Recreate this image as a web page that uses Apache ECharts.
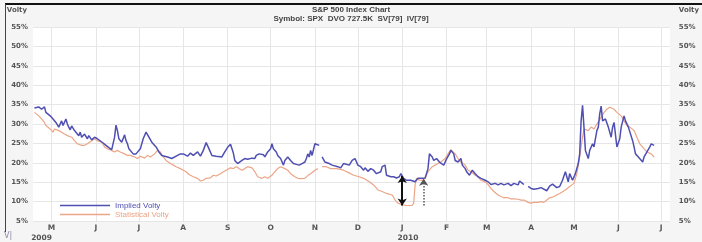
<!DOCTYPE html>
<html><head><meta charset="utf-8">
<script src="https://cdn.jsdelivr.net/npm/echarts@6/dist/echarts.min.js"></script>
<style>html,body{margin:0;padding:0;background:#f5f5f5}#c{width:702px;height:242px}</style>
</head><body><div id="c"></div>
<script>
const titleLines = ['S&P 500 Index Chart', 'Symbol: SPX  DVO 727.5K  SV[79]  IV[79]'];
const seriesNames = ['Implied Volty', 'Statistical Volty'];
const monthTicks = ['2009-05-01','2009-06-01','2009-07-01','2009-08-01','2009-09-01','2009-10-01','2009-11-01','2009-12-01','2010-01-01','2010-02-01','2010-03-01','2010-04-01','2010-05-01','2010-06-01','2010-07-01'];
const monthLabels = ['M','J','J','A','S','O','N','D','J','F','M','A','M','J','J'];
const yearTicks = ['2009-04-24','2010-01-05'];
const yearLabels = ['2009','2010'];
const yTicks = [5,10,15,20,25,30,35,40,45,50,55];

const ivDates = ['2009-04-19','2009-04-22','2009-04-24','2009-04-26','2009-04-27','2009-04-30','2009-05-02','2009-05-04','2009-05-06','2009-05-08','2009-05-09','2009-05-11','2009-05-12','2009-05-13','2009-05-14','2009-05-15','2009-05-17','2009-05-18','2009-05-20','2009-05-21','2009-05-22','2009-05-24','2009-05-25','2009-05-26','2009-05-27','2009-05-29','2009-05-31','2009-06-02','2009-06-03','2009-06-06','2009-06-08','2009-06-10','2009-06-12','2009-06-14','2009-06-15','2009-06-16','2009-06-17','2009-06-19','2009-06-21','2009-06-22','2009-06-23','2009-06-24','2009-06-27','2009-06-29','2009-06-30','2009-07-02','2009-07-04','2009-07-06','2009-07-08','2009-07-10','2009-07-13','2009-07-15','2009-07-17','2009-07-21','2009-07-24','2009-07-28','2009-07-30','2009-08-01','2009-08-04','2009-08-06','2009-08-08','2009-08-11','2009-08-13','2009-08-15','2009-08-17','2009-08-19','2009-08-21','2009-08-24','2009-08-28','2009-08-30','2009-09-01','2009-09-03','2009-09-05','2009-09-06','2009-09-08','2009-09-11','2009-09-13','2009-09-15','2009-09-18','2009-09-20','2009-09-21','2009-09-23','2009-09-26','2009-09-27','2009-09-29','2009-10-01','2009-10-02','2009-10-03','2009-10-05','2009-10-06','2009-10-08','2009-10-10','2009-10-11','2009-10-13','2009-10-14','2009-10-15','2009-10-17','2009-10-19','2009-10-21','2009-10-23','2009-10-25','2009-10-26','2009-10-27','2009-10-28','2009-10-29','2009-10-30','2009-11-01','2009-11-02','2009-11-04','2009-11-05','2009-11-06','2009-11-08','2009-11-09','2009-11-11','2009-11-13','2009-11-14','2009-11-17','2009-11-19','2009-11-21','2009-11-22','2009-11-25','2009-11-27','2009-11-29','2009-12-01','2009-12-03','2009-12-05','2009-12-06','2009-12-08','2009-12-10','2009-12-12','2009-12-14','2009-12-17','2009-12-18','2009-12-20','2009-12-21','2009-12-24','2009-12-26','2009-12-28','2009-12-30','2009-12-31','2010-01-02','2010-01-04','2010-01-07','2010-01-08','2010-01-10','2010-01-12','2010-01-13','2010-01-15','2010-01-17','2010-01-19','2010-01-20','2010-01-22','2010-01-23','2010-01-25','2010-01-27','2010-01-28','2010-01-30','2010-02-01','2010-02-03','2010-02-04','2010-02-06','2010-02-07','2010-02-09','2010-02-11','2010-02-12','2010-02-14','2010-02-15','2010-02-17','2010-02-19','2010-02-21','2010-02-23','2010-02-25','2010-02-28','2010-03-02','2010-03-04','2010-03-07','2010-03-09','2010-03-11','2010-03-13','2010-03-16','2010-03-18','2010-03-20','2010-03-23','2010-03-24','2010-03-26','2010-03-27','2010-03-29','2010-03-30','2010-04-01','2010-04-03','2010-04-06','2010-04-08','2010-04-09','2010-04-12','2010-04-14','2010-04-16','2010-04-19','2010-04-21','2010-04-23','2010-04-25','2010-04-27','2010-04-28','2010-04-30','2010-05-02','2010-05-04','2010-05-05','2010-05-06','2010-05-07','2010-05-08','2010-05-09','2010-05-11','2010-05-12','2010-05-14','2010-05-15','2010-05-17','2010-05-18','2010-05-19','2010-05-20','2010-05-21','2010-05-23','2010-05-25','2010-05-27','2010-05-28','2010-05-29','2010-05-31','2010-06-02','2010-06-03','2010-06-05','2010-06-06','2010-06-08','2010-06-09','2010-06-11','2010-06-12','2010-06-13','2010-06-15','2010-06-18','2010-06-19','2010-06-21','2010-06-23','2010-06-24','2010-06-25','2010-06-26'];
const ivValues = [34.1,34.4,33.8,34.4,33.0,32.1,31.3,30.4,29.2,30.8,29.6,31.3,30.0,29.2,28.5,29.5,28.3,27.9,27.0,27.9,26.6,27.4,27.0,26.2,27.0,25.9,26.6,26.2,25.7,25.1,24.5,23.9,23.4,26.6,29.7,28.3,26.2,25.3,27.2,25.7,24.9,23.6,22.3,22.3,22.8,23.6,26.2,27.9,26.6,25.3,24.1,22.8,21.9,21.5,21.1,21.9,22.3,22.3,21.7,22.5,21.9,22.8,21.7,23.2,25.2,23.6,21.9,21.7,21.5,22.8,24.0,24.8,22.5,20.6,19.8,20.6,21.1,20.9,21.2,21.1,21.9,22.3,22.1,21.5,22.8,23.6,24.9,23.6,22.8,21.9,21.1,19.4,20.6,21.5,21.9,20.6,19.8,19.6,19.4,19.8,20.2,21.1,22.3,21.5,23.2,21.9,24.9,24.5,24.5,null,21.5,20.2,20.4,19.8,19.4,19.6,19.0,18.7,19.8,19.4,19.4,20.6,21.1,19.4,19.0,18.1,18.7,17.8,18.5,18.1,17.2,17.7,19.0,19.4,16.8,16.4,16.4,16.1,16.4,17.2,16.0,15.5,15.5,15.3,15.1,16.0,15.5,16.0,16.1,18.5,22.3,21.5,20.6,21.1,20.2,20.6,19.4,21.0,22.3,23.2,22.3,20.6,20.2,21.1,19.4,18.5,17.7,16.8,18.1,17.2,16.4,16.0,15.5,15.1,14.4,14.7,14.3,14.7,14.3,14.7,14.1,14.7,14.3,15.3,14.7,14.4,null,13.9,13.4,13.2,13.4,13.6,13.9,12.8,14.0,14.5,13.6,13.9,15.5,17.7,15.1,17.2,15.5,17.2,19.8,22.3,30.8,34.8,29.2,23.2,21.1,23.2,24.9,24.1,28.3,29.2,32.6,34.6,30.8,31.3,29.2,26.6,29.2,30.4,24.1,26.2,29.2,32.1,30.8,29.2,29.2,25.7,24.1,22.3,21.5,20.2,21.5,22.8,24.1,24.9,24.5,24.5];

const svDates = ['2009-04-19','2009-04-22','2009-04-24','2009-04-26','2009-04-27','2009-04-30','2009-05-02','2009-05-03','2009-05-06','2009-05-08','2009-05-10','2009-05-12','2009-05-15','2009-05-17','2009-05-19','2009-05-22','2009-05-24','2009-05-26','2009-05-29','2009-05-31','2009-06-02','2009-06-05','2009-06-07','2009-06-09','2009-06-12','2009-06-14','2009-06-16','2009-06-18','2009-06-21','2009-06-23','2009-06-25','2009-06-28','2009-06-30','2009-07-02','2009-07-05','2009-07-07','2009-07-09','2009-07-12','2009-07-14','2009-07-16','2009-07-18','2009-07-20','2009-07-23','2009-07-25','2009-07-27','2009-07-30','2009-08-01','2009-08-03','2009-08-05','2009-08-08','2009-08-11','2009-08-13','2009-08-15','2009-08-17','2009-08-20','2009-08-22','2009-08-24','2009-08-27','2009-08-29','2009-08-31','2009-09-03','2009-09-05','2009-09-07','2009-09-09','2009-09-11','2009-09-13','2009-09-15','2009-09-18','2009-09-20','2009-09-22','2009-09-25','2009-09-27','2009-09-29','2009-09-30','2009-10-02','2009-10-04','2009-10-06','2009-10-08','2009-10-11','2009-10-13','2009-10-15','2009-10-18','2009-10-20','2009-10-22','2009-10-25','2009-10-27','2009-10-29','2009-11-01','2009-11-03','2009-11-05','2009-11-06','2009-11-09','2009-11-12','2009-11-16','2009-11-19','2009-11-21','2009-11-26','2009-11-28','2009-12-02','2009-12-05','2009-12-09','2009-12-12','2009-12-15','2009-12-18','2009-12-21','2009-12-25','2009-12-27','2009-12-29','2010-01-01','2010-01-04','2010-01-08','2010-01-09','2010-01-10','2010-01-11','2010-01-13','2010-01-15','2010-01-17','2010-01-19','2010-01-22','2010-01-24','2010-01-26','2010-01-28','2010-01-31','2010-02-02','2010-02-04','2010-02-07','2010-02-09','2010-02-11','2010-02-14','2010-02-16','2010-02-18','2010-02-21','2010-02-23','2010-02-25','2010-02-28','2010-03-02','2010-03-04','2010-03-06','2010-03-09','2010-03-11','2010-03-13','2010-03-16','2010-03-18','2010-03-20','2010-03-23','2010-03-25','2010-03-27','2010-03-30','2010-04-01','2010-04-03','2010-04-06','2010-04-08','2010-04-10','2010-04-12','2010-04-14','2010-04-17','2010-04-18','2010-04-21','2010-04-25','2010-04-28','2010-05-01','2010-05-03','2010-05-05','2010-05-07','2010-05-08','2010-05-11','2010-05-13','2010-05-15','2010-05-17','2010-05-20','2010-05-22','2010-05-24','2010-05-26','2010-05-29','2010-05-31','2010-06-03','2010-06-05','2010-06-07','2010-06-09','2010-06-12','2010-06-14','2010-06-16','2010-06-19','2010-06-21','2010-06-24','2010-06-26'];
const svValues = [33.0,32.1,31.3,30.4,29.6,28.7,27.9,28.7,28.3,27.9,27.4,27.0,26.6,25.7,24.9,24.5,24.5,24.9,25.7,26.2,25.7,25.3,24.1,23.6,23.2,22.8,23.2,22.8,22.3,21.9,21.9,21.5,21.1,21.7,21.2,21.9,21.5,22.3,23.2,22.8,21.5,20.6,19.8,19.4,19.0,18.5,18.1,17.7,17.0,16.4,16.0,15.3,15.5,16.0,16.1,16.8,16.6,17.2,17.7,18.1,18.7,18.5,19.0,18.5,18.1,18.5,19.0,18.7,17.7,16.4,16.0,16.4,16.0,15.5,16.8,17.7,18.5,19.0,18.5,18.1,17.2,16.4,16.0,15.9,16.0,16.7,17.2,18.1,18.5,null,19.0,19.0,18.5,18.5,18.3,18.1,17.2,16.8,16.4,16.0,15.1,14.3,13.0,12.6,12.1,11.7,10.4,9.6,9.2,9.0,9.0,9.6,14.3,16.0,15.5,15.5,16.0,17.7,19.0,19.4,19.8,20.2,21.1,22.3,23.4,22.3,21.1,20.2,19.4,18.1,17.7,16.8,16.4,15.5,15.1,14.4,13.4,12.6,11.7,11.3,11.0,11.0,10.7,10.7,10.6,10.4,10.4,9.8,9.6,9.8,9.8,10.0,9.8,10.4,11.0,11.3,11.7,12.1,13.0,13.9,14.7,17.2,21.5,26.6,28.7,28.3,29.2,28.7,30.0,31.7,33.0,33.8,34.3,33.8,33.0,32.1,30.8,29.6,29.2,28.3,26.6,24.9,23.6,22.8,22.3,21.5];

// annotation arrows: [date, top value, bottom value]
const solidArrow = ['2010-01-01', 16.6, 9.0];
const dottedArrow = ['2010-01-16', 15.9, 9.0];

const P = s => echarts.number.parseDate(s).getTime();
const monthTs = monthTicks.map(P);
const yearTs = yearTicks.map(P);
const ivData = ivDates.map((d, i) => [P(d), ivValues[i]]);
const svData = svDates.map((d, i) => [P(d), svValues[i]]);
const xMin = P('2009-04-18'), xMax = P('2010-07-07');

const IV_COLOR = '#4f4fb3';
const SV_COLOR = '#eba587';
const labelFont = {fontFamily: 'DejaVu Sans', fontWeight: 'bold', fontSize: 7, color: '#555'};

const chart = echarts.init(document.getElementById('c'), null, {renderer: 'canvas'});
chart.setOption({
  animation: false,
  backgroundColor: '#f5f5f5',
  title: {
    text: titleLines[0], subtext: titleLines[1], left: 'center', top: 1, itemGap: 1,
    textStyle: {fontFamily: 'Liberation Sans', fontSize: 8, fontWeight: 'bold', color: '#444'},
    subtextStyle: {fontFamily: 'Liberation Sans', fontSize: 8, fontWeight: 'bold', color: '#444'}
  },
  legend: {
    orient: 'vertical', left: 55, top: 196, itemWidth: 50, itemHeight: 1.5, itemGap: 0, icon: 'rect',
    textStyle: {fontFamily: 'Liberation Sans', fontSize: 8, lineHeight: 9},
    data: [
      {name: seriesNames[0], textStyle: {color: IV_COLOR}},
      {name: seriesNames[1], textStyle: {color: SV_COLOR}}
    ]
  },
  grid: {left: 33, right: 27, top: 27, bottom: 19, show: true, backgroundColor: '#ffffff', borderWidth: 0},
  xAxis: [{
    type: 'value', min: xMin, max: xMax,
    axisLine: {show: false}, axisTick: {show: false, customValues: monthTs},
    splitLine: {show: true, lineStyle: {color: '#e6e6e6', width: 1}},
    axisLabel: {
      customValues: monthTs, margin: 3, ...labelFont, fontSize: 7.5,
      formatter: v => monthLabels[monthTs.indexOf(v)] || ''
    }
  }, {
    type: 'value', min: xMin, max: xMax, position: 'bottom', offset: 10,
    axisLine: {show: false}, axisTick: {show: false, customValues: yearTs}, splitLine: {show: false},
    axisLabel: {customValues: yearTs, margin: 3, ...labelFont, fontSize: 7.5,
      formatter: v => yearLabels[yearTs.indexOf(v)] || ''}
  }],
  yAxis: [{
    type: 'value', min: yTicks[0], max: yTicks[yTicks.length - 1], interval: 5, position: 'left',
    name: 'Volty', nameLocation: 'end', nameGap: 13,
    nameTextStyle: {...labelFont, align: 'right', padding: [0, 6, 0, 0]},
    axisLine: {show: false}, axisTick: {show: false},
    splitLine: {lineStyle: {color: '#e6e6e6', width: 1}},
    axisLabel: {...labelFont, margin: 5, formatter: '{value}%'}
  }, {
    type: 'value', min: yTicks[0], max: yTicks[yTicks.length - 1], interval: 5, position: 'right',
    name: 'Volty', nameLocation: 'end', nameGap: 13,
    nameTextStyle: {...labelFont, align: 'left', padding: [0, 0, 0, 9]},
    axisLine: {show: false}, axisTick: {show: false}, splitLine: {show: false},
    axisLabel: {...labelFont, margin: 9, formatter: '{value}%'}
  }],
  series: [{
    name: seriesNames[1], type: 'line', data: svData, showSymbol: false, connectNulls: false,
    lineStyle: {color: SV_COLOR, width: 1.2}, itemStyle: {color: SV_COLOR}, z: 2
  }, {
    name: seriesNames[0], type: 'line', data: ivData, showSymbol: false, connectNulls: false,
    lineStyle: {color: IV_COLOR, width: 1.5}, itemStyle: {color: IV_COLOR}, z: 3,
    markLine: {
      silent: true, animation: false, label: {show: false},
      data: [
        [{coord: [P(solidArrow[0]), solidArrow[1]], symbol: 'arrow', symbolSize: [7, 7], lineStyle: {color: '#111', width: 2, type: 'solid'}},
         {coord: [P(solidArrow[0]), solidArrow[2]], symbol: 'arrow', symbolSize: [7, 7]}],
        [{coord: [P(dottedArrow[0]), dottedArrow[2]], symbol: 'none', lineStyle: {color: '#555', width: 1.5, type: 'dotted'}},
         {coord: [P(dottedArrow[0]), dottedArrow[1]], symbol: 'arrow', symbolSize: [7, 7]}]
      ]
    }
  }],
  graphic: [
    {type: 'line', shape: {x1: 5, y1: 4, x2: 702, y2: 4}, style: {stroke: '#111', lineWidth: 2}, z: 100},
    {type: 'line', shape: {x1: 5.5, y1: 4, x2: 5.5, y2: 232}, style: {stroke: '#444', lineWidth: 1}, z: 100},
    {type: 'text', left: 4, top: 232, style: {text: 'V|', fontSize: 8, fill: '#8888aa', fontFamily: 'DejaVu Sans'}}
  ]
});
</script></body></html>
